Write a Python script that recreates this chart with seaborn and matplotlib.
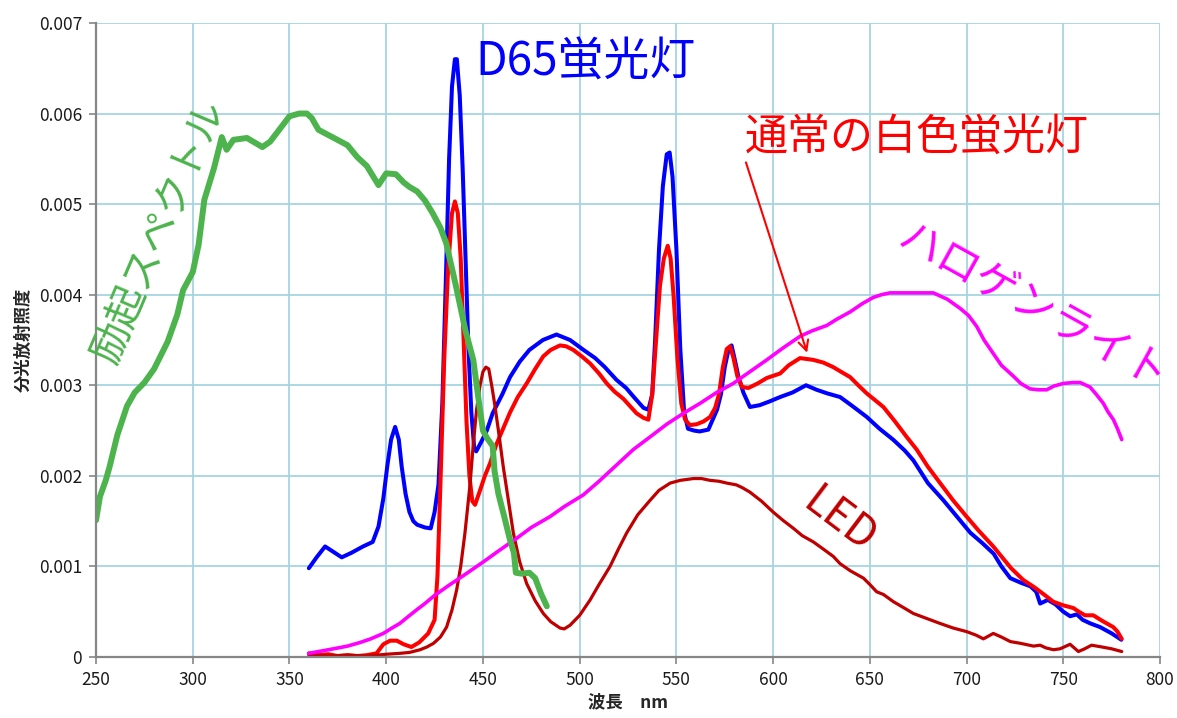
import matplotlib
matplotlib.use("Agg")
import matplotlib.pyplot as plt
import seaborn as sns
import pandas as pd

# excitation spectrum (green)
excite_nm = [250, 252, 255, 257, 261, 266, 270, 275, 280, 287, 292, 295, 300, 303, 306, 311, 315, 317.5,
             321, 328, 336, 340, 345, 350, 355, 359, 361.5, 365, 373, 380, 385, 390, 396, 400, 405, 409,
             412, 416, 420, 424, 428, 431, 436, 441, 445, 448, 450, 452, 455, 456, 458, 461, 464, 466,
             467, 470, 474, 477, 480, 483]
excite_val = [0.00151, 0.00177, 0.00195, 0.0021, 0.00245, 0.00277, 0.00292, 0.00303, 0.00318, 0.00348,
              0.00378, 0.00405, 0.00425, 0.00455, 0.00505, 0.0054, 0.00574, 0.0056, 0.00571, 0.00573,
              0.00563, 0.00569, 0.00583, 0.00597, 0.006, 0.006, 0.00595, 0.00582, 0.00573, 0.00565,
              0.00552, 0.00542, 0.00521, 0.00534, 0.00533, 0.00524, 0.00519, 0.00514, 0.00504, 0.0049,
              0.00474, 0.00457, 0.0041, 0.0036, 0.00328, 0.0028, 0.0025, 0.00242, 0.00233, 0.00205,
              0.0018, 0.00155, 0.00129, 0.00115, 0.00093, 0.00092, 0.00093, 0.00087, 0.0007, 0.00056]

# D65 fluorescent lamp (blue)
d65_nm = [360, 364, 368.4, 372, 377, 382, 388, 393, 396, 398.5, 400.5, 402.5, 404.6, 406.5, 408, 410,
          412, 414, 416, 420, 423, 425, 427, 429, 431, 432.5, 434, 435.5, 436.5, 438, 439.5, 441,
          442.5, 444, 445.5, 446.5, 449, 452, 455, 460, 464, 469, 474, 481, 488, 495, 502, 508, 513,
          519, 524, 528, 533, 535.5, 537.5, 539, 541, 543, 545, 546.5, 548, 550, 552, 554, 556, 559,
          562, 566.5, 571, 573, 575, 577, 578.5, 580, 582, 584.6, 588, 593, 598, 603.6, 610, 617,
          622.5, 628, 634.6, 641, 648.4, 655, 662, 668, 672.5, 680, 688, 695, 702, 708, 714, 718,
          722.6, 728, 733, 736, 738, 742, 746, 750, 753.5, 757, 760, 764, 769, 775, 780]
d65_val = [0.00098, 0.0011, 0.00122, 0.00117, 0.0011, 0.00115, 0.00122, 0.00127, 0.00144, 0.00175,
           0.0021, 0.0024, 0.00254, 0.0024, 0.0021, 0.0018, 0.0016, 0.0015, 0.00146, 0.00143,
           0.00142, 0.0016, 0.0019, 0.0028, 0.0043, 0.0055, 0.0063, 0.0066, 0.0066, 0.0062, 0.0054,
           0.0044, 0.0034, 0.0027, 0.0023, 0.00227, 0.00237, 0.0025, 0.00269, 0.0029, 0.00309,
           0.00326, 0.00339, 0.0035, 0.00356, 0.0035, 0.00339, 0.0033, 0.0032, 0.00306, 0.00297,
           0.00287, 0.00275, 0.00273, 0.0029, 0.0035, 0.0045, 0.0052, 0.00555, 0.00557, 0.0053,
           0.0045, 0.0034, 0.0027, 0.00252, 0.0025, 0.00249, 0.00251, 0.00273, 0.0029, 0.0032,
           0.0034, 0.00344, 0.0033, 0.0031, 0.00292, 0.00276, 0.00278, 0.00282, 0.00287, 0.00292,
           0.003, 0.00295, 0.00291, 0.00287, 0.00277, 0.00265, 0.00252, 0.0024, 0.00228, 0.00217,
           0.00192, 0.00173, 0.00155, 0.00137, 0.00126, 0.00114, 0.001, 0.00087, 0.00082, 0.00078,
           0.00072, 0.00059, 0.00063, 0.00058, 0.0005, 0.00045, 0.00047, 0.00041, 0.00037, 0.00033,
           0.00026, 0.00019]

# ordinary white fluorescent lamp (red)
white_nm = [360, 365, 370, 375, 380, 385, 390, 395, 398.5, 402, 405.5, 409, 413, 417, 421.7, 425, 426.5,
            428, 430, 432, 434, 435.5, 437, 438.5, 440, 441.5, 443, 444.5, 445.9, 448.5, 451, 453.7, 457,
            460, 464, 468, 472.6, 477, 481.2, 485, 489.8, 493, 496.7, 501, 505.4, 510, 514, 518, 522.6,
            526, 529.4, 533, 535.5, 537.5, 539.5, 541.5, 543.5, 545.5, 547, 548.5, 550.5, 552.5, 554.5,
            557, 560.5, 564, 567.4, 570, 572, 574, 576, 577.7, 579.5, 581.5, 584, 587.2, 592, 596.7,
            603.6, 608, 613.9, 620.8, 626, 631.1, 635, 639.8, 644, 648.4, 653, 657, 663, 669, 674.2,
            680, 686.3, 693, 700, 706, 713.8, 718, 723, 729.3, 735, 740, 744.8, 750, 755.2, 758, 761.2,
            765.5, 770, 775.8, 778, 780.2]
white_val = [0.00004, 0.00002, 0.00003, 0.00001, 0.00002, 0.00001, 0.00002, 0.00004, 0.00014, 0.00018,
             0.00018, 0.00014, 0.00011, 0.00016, 0.00026, 0.00041, 0.0009, 0.0019, 0.0033, 0.0043,
             0.0049, 0.00503, 0.0049, 0.0044, 0.0035, 0.0026, 0.002, 0.00172, 0.00168, 0.00184, 0.002,
             0.00214, 0.00235, 0.0025, 0.0027, 0.00287, 0.00302, 0.00318, 0.00332, 0.00339, 0.00344,
             0.00343, 0.00339, 0.00332, 0.00324, 0.00313, 0.00302, 0.00293, 0.00285, 0.00277, 0.00269,
             0.00264, 0.00262, 0.0029, 0.0035, 0.0041, 0.0044, 0.00454, 0.0044, 0.004, 0.0033, 0.0028,
             0.00262, 0.00256, 0.00257, 0.0026, 0.00265, 0.00275, 0.0029, 0.0032, 0.0034, 0.00343,
             0.0033, 0.0031, 0.00298, 0.00297, 0.00302, 0.00308, 0.00313, 0.00322, 0.0033, 0.00328,
             0.00325, 0.0032, 0.00315, 0.00309, 0.003, 0.00291, 0.00283, 0.00276, 0.0026, 0.00243,
             0.00229, 0.0021, 0.00192, 0.00173, 0.00155, 0.0014, 0.00122, 0.00111, 0.00098, 0.00085,
             0.00077, 0.00069, 0.00061, 0.00057, 0.00054, 0.0005, 0.00046, 0.00046, 0.0004, 0.00033,
             0.00028, 0.0002]

# LED (dark red)
led_nm = [360, 370, 380, 390, 400, 407, 412, 417.5, 421, 424.4, 428, 431.2, 434, 436.4, 438.5, 440.7,
          443.3, 445, 446.7, 448.5, 450, 451.5, 453, 454.5, 456, 458, 460.5, 463, 465.7, 469, 472.6, 477,
          481.2, 485, 489.8, 492, 495, 500, 505.4, 510, 515.7, 520, 524.3, 530, 536.4, 541, 546.8, 552,
          558.8, 563, 567.4, 572, 576, 581, 584, 588, 594, 600, 605, 610.5, 615, 620.8, 626, 631.1,
          634.6, 640, 646.7, 650, 653.5, 657, 662.2, 667, 672.5, 680, 686.3, 693, 700, 705, 708.7,
          713.8, 718, 722.6, 728, 734.6, 738, 741, 744.9, 748.3, 753.5, 757.8, 761, 764.6, 770, 775,
          780.2]
led_val = [0.00002, 0.00001, 0.00002, 0.00001, 0.00003, 0.00004, 0.00005, 0.00008, 0.00011, 0.00015,
           0.00022, 0.00033, 0.00052, 0.00074, 0.001, 0.00137, 0.0019, 0.00235, 0.00273, 0.003,
           0.00315, 0.0032, 0.00318, 0.003, 0.0028, 0.0025, 0.0021, 0.00175, 0.00137, 0.00105,
           0.00081, 0.00062, 0.00048, 0.00039, 0.00032, 0.00031, 0.00035, 0.00046, 0.00063, 0.0008,
           0.001, 0.00119, 0.00137, 0.00157, 0.00173, 0.00184, 0.00192, 0.00195, 0.00197, 0.00197,
           0.00195, 0.00194, 0.00192, 0.0019, 0.00187, 0.00182, 0.00172, 0.0016, 0.00151, 0.00142,
           0.00134, 0.00127, 0.00119, 0.00111, 0.00103, 0.00095, 0.00087, 0.0008, 0.00072, 0.00069,
           0.00061, 0.00055, 0.00048, 0.00042, 0.00037, 0.00032, 0.00028, 0.00024, 0.0002, 0.00026,
           0.00022, 0.00017, 0.00015, 0.00012, 0.00013, 0.0001, 0.00008, 0.00009, 0.00014, 0.00006,
           0.00009, 0.00013, 0.00011, 0.00009, 0.00006]

# halogen light (magenta)
halogen_nm = [360, 365, 372.7, 380, 386.5, 392, 398.5, 403, 407, 411, 415.7, 420, 425, 433, 440, 450.2,
              458, 467.4, 475, 484.7, 492, 501.9, 510, 519.1, 527.7, 536.4, 545, 553.6, 562.2, 570.8,
              579.4, 588, 596.7, 605, 613.9, 620, 627.7, 633, 639.8, 646, 651.8, 656, 660.4, 670,
              682.8, 690, 696.6, 701, 705.2, 709, 713.8, 718, 724.2, 728, 732.8, 737, 741.4, 745, 750,
              755, 758.7, 763.8, 767, 770.7, 773, 775.9, 778, 780.2]
halogen_val = [0.00004, 0.00006, 0.00009, 0.00012, 0.00016, 0.0002, 0.00026, 0.00032, 0.00037, 0.00044,
               0.00052, 0.00059, 0.00068, 0.0008, 0.0009, 0.00105, 0.00117, 0.00131, 0.00143, 0.00155,
               0.00166, 0.00179, 0.00194, 0.00212, 0.00229, 0.00243, 0.00257, 0.00269, 0.0028, 0.00292,
               0.00302, 0.00315, 0.00328, 0.00341, 0.00354, 0.0036, 0.00366, 0.00373, 0.00381, 0.0039,
               0.00397, 0.004, 0.00402, 0.00402, 0.00402, 0.00395, 0.00385, 0.00377, 0.00365, 0.0035,
               0.00335, 0.00322, 0.0031, 0.00302, 0.00296, 0.00295, 0.00295, 0.00299, 0.00302, 0.00303,
               0.00303, 0.00298, 0.0029, 0.0028, 0.00271, 0.00262, 0.00252, 0.0024]

x_ticks = [250, 300, 350, 400, 450, 500, 550, 600, 650, 700, 750, 800]
y_ticks = [0, 0.001, 0.002, 0.003, 0.004, 0.005, 0.006, 0.007]
y_tick_labels = ["0", "0.001", "0.002", "0.003", "0.004", "0.005", "0.006", "0.007"]

sns.set_theme(style="white")
plt.rcParams['font.family'] = ['Noto Sans CJK JP', 'DejaVu Sans']

fig = plt.figure(figsize=(11.77, 7.18), dpi=100)
ax = fig.add_axes([0.0816, 0.085, 0.904, 0.883])

series = [
    (d65_nm, d65_val, "#0000ff", 2.9),
    (white_nm, white_val, "#ff0000", 2.9),
    (led_nm, led_val, "#c00000", 2.3),
    (halogen_nm, halogen_val, "#ff00ff", 2.6),
    (excite_nm, excite_val, "#4db34d", 4.3),
]
for xs, ys, color, lw in series:
    df = pd.DataFrame({"nm": xs, "val": ys})
    sns.lineplot(data=df, x="nm", y="val", color=color, linewidth=lw, sort=False,
                 estimator=None, ax=ax, solid_joinstyle="round", solid_capstyle="round")

ax.set_xlim(250, 800)
ax.set_ylim(0, 0.007)
ax.set_xticks(x_ticks)
ax.set_xticklabels([str(t) for t in x_ticks], fontsize=12.5)
ax.set_yticks(y_ticks)
ax.set_yticklabels(y_tick_labels, fontsize=12.5)
ax.grid(True, color="#a6d4e0", linewidth=1.3)
ax.set_axisbelow(True)
for side in ["top", "right"]:
    ax.spines[side].set_visible(False)
for side in ["left", "bottom"]:
    ax.spines[side].set_color("#868686")
    ax.spines[side].set_linewidth(1.6)
ax.tick_params(axis="both", direction="out", length=5, width=1.2, color="#868686",
               labelcolor="#1a1a1a", pad=5, left=True, bottom=True)

ax.set_xlabel("波長　nm", fontsize=12.5, fontweight="bold", labelpad=3)
ax.set_ylabel("分光放射照度", fontsize=12.5, fontweight="bold", labelpad=4)

# curve labels
ax.text(503, 0.00657, "D65蛍光灯", color="#0000ff", fontsize=33, ha="center", va="center")
ax.text(674.5, 0.00573, "通常の白色蛍光灯", color="#ff0000", fontsize=31, ha="center", va="center")
ax.annotate("", xy=(618, 0.00333), xytext=(585.5, 0.00549),
            arrowprops=dict(arrowstyle="->", color="#ff0000", lw=1.5, mutation_scale=18))
ax.text(734, 0.00385, "ハロゲンライト", color="#ff00ff", fontsize=31, ha="center", va="center",
        rotation=-29, rotation_mode="anchor")
ax.text(634, 0.0015, "LED", color="#c00000", fontsize=31, ha="center", va="center",
        rotation=-37, rotation_mode="anchor")
ax.text(283, 0.0047, "励起スペクトル", color="#4db34d", fontsize=29, ha="center", va="center",
        rotation=67, rotation_mode="anchor")

fig.savefig("out.png", dpi=100)
